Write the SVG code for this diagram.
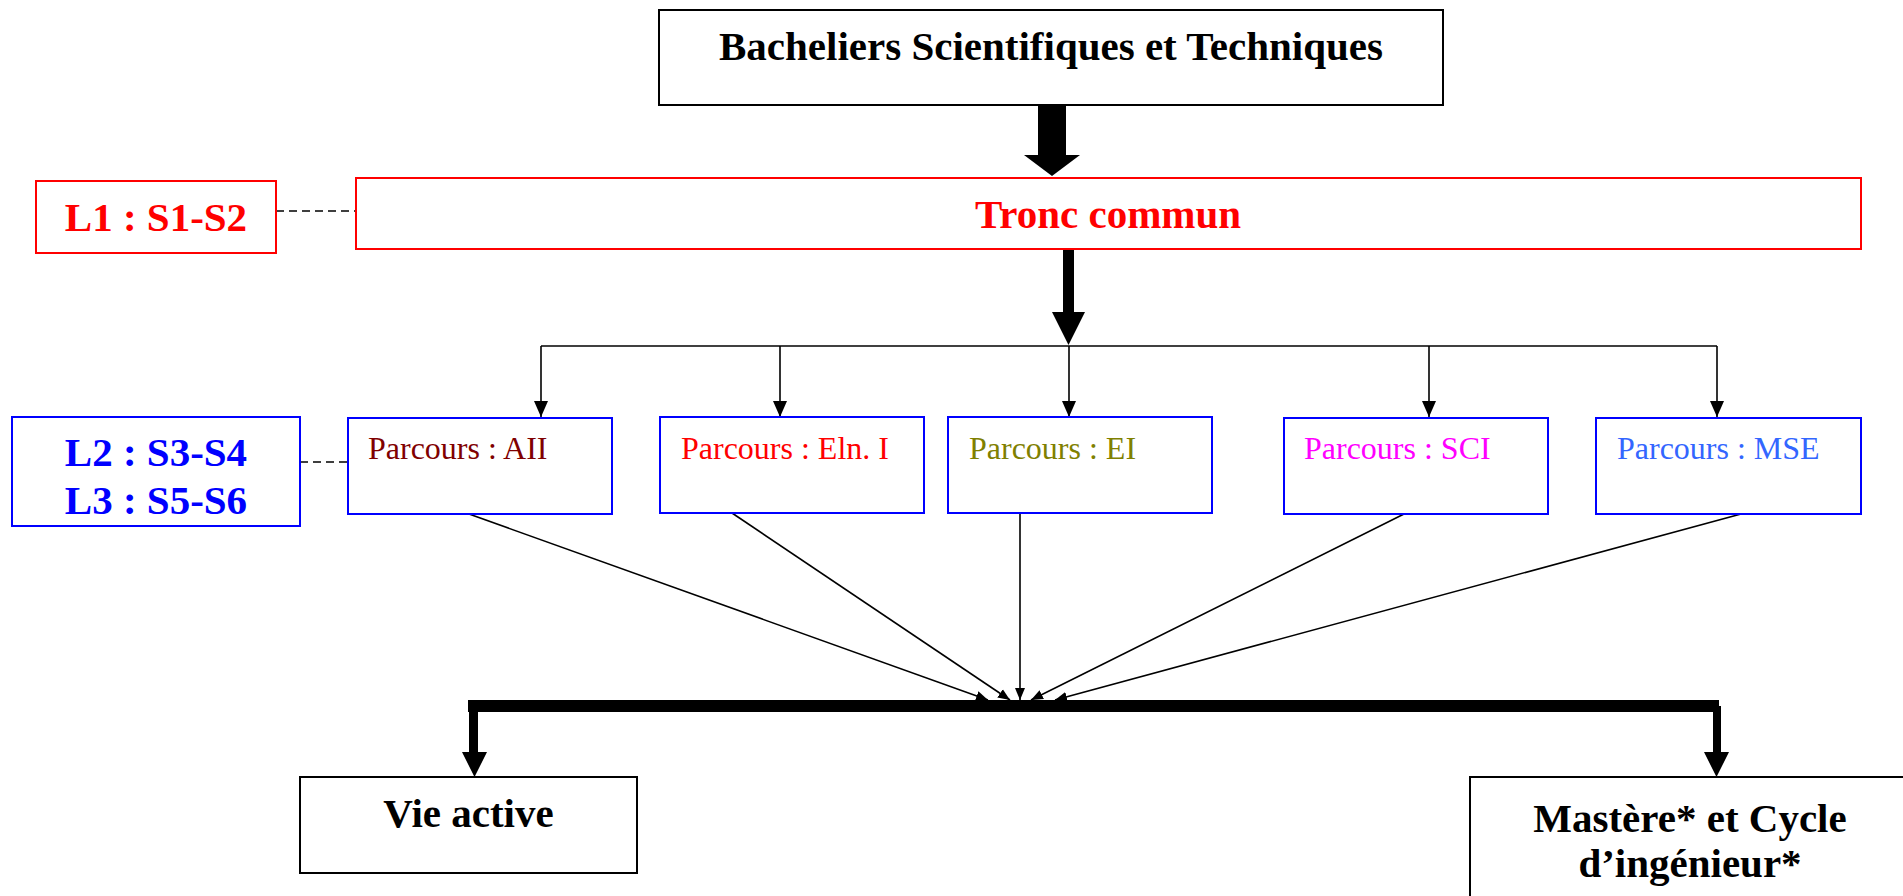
<svg xmlns="http://www.w3.org/2000/svg" width="1903" height="896" viewBox="0 0 1903 896">
<style>
.bx{fill:#fff;stroke-width:2}
.k{stroke:#000}
.r{stroke:#ff0000}
.b{stroke:#0000ff}
.t{font-family:"Liberation Serif","Times New Roman",serif;font-weight:bold;font-size:41px}
.p{font-family:"Liberation Serif","Times New Roman",serif;font-size:32px}
.ln{stroke:#000;stroke-width:1.6;fill:none}
.ds{stroke:#000;stroke-width:1.6;stroke-dasharray:8,5;fill:none}
</style>
<defs>
<marker id="ah" markerUnits="userSpaceOnUse" markerWidth="16" markerHeight="16" viewBox="0 0 16 16" refX="16" refY="8" orient="auto">
<path d="M0,1 L16,8 L0,15 Z" fill="#000"/>
</marker>
<marker id="as" markerUnits="userSpaceOnUse" markerWidth="12" markerHeight="12" viewBox="0 0 12 12" refX="12" refY="6" orient="auto">
<path d="M0,1 L12,6 L0,11 Z" fill="#000"/>
</marker>
</defs>

<g id="connectors">
<path class="ds" d="M276,211 H356"/>
<path class="ds" d="M300,462 H357"/>
<polygon points="1038,105 1066,105 1066,155 1080,155 1052,176 1024,155 1038,155" fill="#000"/>
<polygon points="1063,250 1074,250 1074,312 1085,312 1068.5,345 1052,312 1063,312" fill="#000"/>
<path class="ln" d="M541,346 H1717"/>
<path class="ln" d="M541,346 V417" marker-end="url(#ah)"/>
<path class="ln" d="M780,346 V417" marker-end="url(#ah)"/>
<path class="ln" d="M1069,346 V417" marker-end="url(#ah)"/>
<path class="ln" d="M1429,346 V417" marker-end="url(#ah)"/>
<path class="ln" d="M1717,346 V417" marker-end="url(#ah)"/>
<path class="ln" d="M469,514 L988,700" marker-end="url(#as)"/>
<path class="ln" d="M732,513 L1010,700" marker-end="url(#as)"/>
<path class="ln" d="M1020,513 L1020,700" marker-end="url(#as)"/>
<path class="ln" d="M1404,514 L1031,700" marker-end="url(#as)"/>
<path class="ln" d="M1741,514 L1055,700" marker-end="url(#as)"/>
<rect x="468" y="700" width="1251" height="12" fill="#000"/>
<polygon points="469,706 478,706 478,752 487,752 474.5,777 462,752 469,752" fill="#000"/>
<polygon points="1713,706 1721,706 1721,752 1729,752 1716.5,777 1704,752 1713,752" fill="#000"/>
</g>

<g id="bacheliers">
<rect class="bx k" x="659" y="10" width="784" height="95"/>
<text class="t" x="1051" y="60" text-anchor="middle" fill="#000">Bacheliers Scientifiques et Techniques</text>
</g>

<g id="tronc">
<rect class="bx r" x="356" y="178" width="1505" height="71"/>
<text class="t" x="1108" y="228" text-anchor="middle" fill="#ff0000">Tronc commun</text>
</g>

<g id="l1">
<rect class="bx r" x="36" y="181" width="240" height="72"/>
<text class="t" x="156" y="231" text-anchor="middle" fill="#ff0000">L1 : S1-S2</text>
</g>

<g id="l2l3">
<rect class="bx b" x="12" y="417" width="288" height="109"/>
<text class="t" x="156" y="466" text-anchor="middle" fill="#0000ff">L2 : S3-S4</text>
<text class="t" x="156" y="514" text-anchor="middle" fill="#0000ff">L3 : S5-S6</text>
</g>

<g id="aii">
<rect class="bx b" x="348" y="418" width="264" height="96"/>
<text class="p" x="368" y="459" fill="#800000">Parcours : AII</text>
</g>

<g id="eln">
<rect class="bx b" x="660" y="417" width="264" height="96"/>
<text class="p" x="681" y="459" fill="#ff0000">Parcours : Eln. I</text>
</g>

<g id="ei">
<rect class="bx b" x="948" y="417" width="264" height="96"/>
<text class="p" x="969" y="459" fill="#808000">Parcours : EI</text>
</g>

<g id="sci">
<rect class="bx b" x="1284" y="418" width="264" height="96"/>
<text class="p" x="1304" y="459" fill="#ff00ff">Parcours : SCI</text>
</g>

<g id="mse">
<rect class="bx b" x="1596" y="418" width="265" height="96"/>
<text class="p" x="1617" y="459" fill="#3366ff">Parcours : MSE</text>
</g>

<g id="vie-active">
<rect class="bx k" x="300" y="777" width="337" height="96"/>
<text class="t" x="468.5" y="827" text-anchor="middle" fill="#000">Vie active</text>
</g>

<g id="mastere">
<rect class="bx k" x="1470" y="777" width="440" height="140"/>
<text class="t" x="1690" y="832" text-anchor="middle" fill="#000">Mastère* et Cycle</text>
<text class="t" x="1690" y="877" text-anchor="middle" fill="#000">d’ingénieur*</text>
</g>
</svg>
